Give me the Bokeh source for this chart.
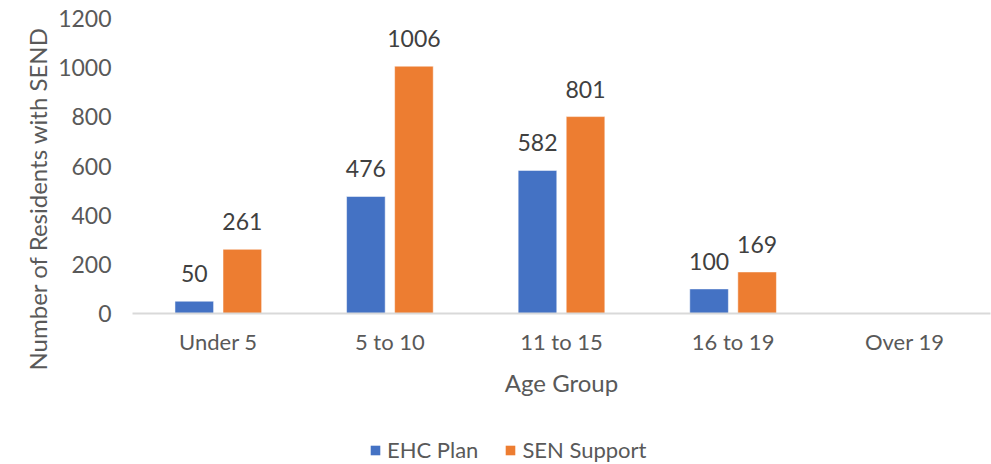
from bokeh.plotting import figure
from bokeh.layouts import column
from bokeh.models import ColumnDataSource, FactorRange, LabelSet, Legend, LegendItem, Title, Range1d
from bokeh.core.properties import value
from bokeh.transform import dodge
from bokeh.embed import file_html
from bokeh.resources import INLINE

categories = ["Under 5", "5 to 10", "11 to 15", "16 to 19", "Over 19"]
ehc_plan = [50, 476, 582, 100, float("nan")]
sen_support = [261, 1006, 801, 169, float("nan")]
y_ticks = [0, 200, 400, 600, 800, 1000, 1200]

BLUE = "#4472C4"
ORANGE = "#ED7D31"
FONT = "Lato"

src = ColumnDataSource(dict(cat=categories, ehc=ehc_plan, sen=sen_support))

def label_source(vals):
    cats = [c for c, v in zip(categories, vals) if v == v]
    vs = [v for v in vals if v == v]
    return ColumnDataSource(dict(cat=cats, val=vs, txt=[str(int(v)) for v in vs]))

p = figure(x_range=FactorRange(*categories), y_range=(0, 1200),
           frame_width=858, frame_height=295, output_backend="svg", toolbar_location=None,
           min_border_left=132, min_border_right=1, min_border_top=18, min_border_bottom=123)
p.outline_line_color = None
p.xgrid.grid_line_color = None
p.ygrid.grid_line_color = None
p.background_fill_color = "white"
p.border_fill_color = "white"
p.x_range.range_padding = 0

OFF = 0.14
W = 0.225
p.vbar(x=dodge("cat", -OFF, range=p.x_range), top="ehc", width=W, source=src,
       fill_color=BLUE, line_color="white", line_width=0.5)
p.vbar(x=dodge("cat", OFF, range=p.x_range), top="sen", width=W, source=src,
       fill_color=ORANGE, line_color="white", line_width=0.5)

for vals, off in ((ehc_plan, -OFF), (sen_support, OFF)):
    ls = LabelSet(x=dodge("cat", off, range=p.x_range), y="val", text="txt",
                  source=label_source(vals), text_align="center", text_baseline="alphabetic",
                  y_offset=19, text_font=value(FONT), text_font_size=value("23px"),
                  text_color="#404040")
    p.add_layout(ls)

# axes
p.yaxis.ticker = y_ticks
p.yaxis.axis_line_color = None
p.yaxis.major_tick_line_color = None
p.yaxis.minor_tick_line_color = None
p.yaxis.major_label_standoff = 15
p.yaxis.major_label_text_font = FONT
p.yaxis.major_label_text_font_size = "23px"
p.yaxis.major_label_text_color = "#595959"

ytitle = Title(text="Number of Residents with SEND", align="left", offset=-57,
               text_font=FONT, text_font_size="24px", text_font_style="normal",
               text_color="#595959", standoff=8)
p.add_layout(ytitle, "left")

p.xaxis.axis_line_color = "#D9D9D9"
p.xaxis.axis_line_width = 2
p.xaxis.major_tick_line_color = None
p.xaxis.minor_tick_line_color = None
p.xaxis.major_label_standoff = 8
p.xaxis.major_label_text_font = FONT
p.xaxis.major_label_text_font_size = "22px"
p.xaxis.major_label_text_color = "#595959"
p.xaxis.axis_label = "Age Group"
p.xaxis.axis_label_text_font = FONT
p.xaxis.axis_label_text_font_size = "24px"
p.xaxis.axis_label_text_font_style = "normal"
p.xaxis.axis_label_text_color = "#595959"
p.xaxis.axis_label_standoff = 10

# legend strip below the chart; its bars have zero width so only the legend shows
p2 = figure(x_range=p.x_range, y_range=Range1d(-2, -1),
            frame_width=991, frame_height=28, min_border=0,
            x_axis_location=None, y_axis_location=None,
            output_backend="svg", toolbar_location=None)
p2.outline_line_color = None
p2.xgrid.grid_line_color = None
p2.ygrid.grid_line_color = None
p2.background_fill_color = "white"
p2.border_fill_color = "white"
l1 = p2.vbar(x=dodge("cat", -OFF, range=p.x_range), top="ehc", bottom="ehc", width=0,
             source=src, fill_color=BLUE, line_color=None)
l2 = p2.vbar(x=dodge("cat", OFF, range=p.x_range), top="sen", bottom="sen", width=0,
             source=src, fill_color=ORANGE, line_color=None)

legend = Legend(items=[LegendItem(label="EHC Plan", renderers=[l1]),
                       LegendItem(label="SEN Support", renderers=[l2])],
                orientation="horizontal", location=(369, 1),
                label_text_font=FONT, label_text_font_size="22px", label_text_color="#595959",
                glyph_width=12, glyph_height=12, spacing=26, padding=0, margin=0,
                label_standoff=6, border_line_color=None, background_fill_alpha=0)
p2.add_layout(legend)

layout = column(p, p2, spacing=0)
open("out.html", "w").write(file_html(layout, INLINE))
